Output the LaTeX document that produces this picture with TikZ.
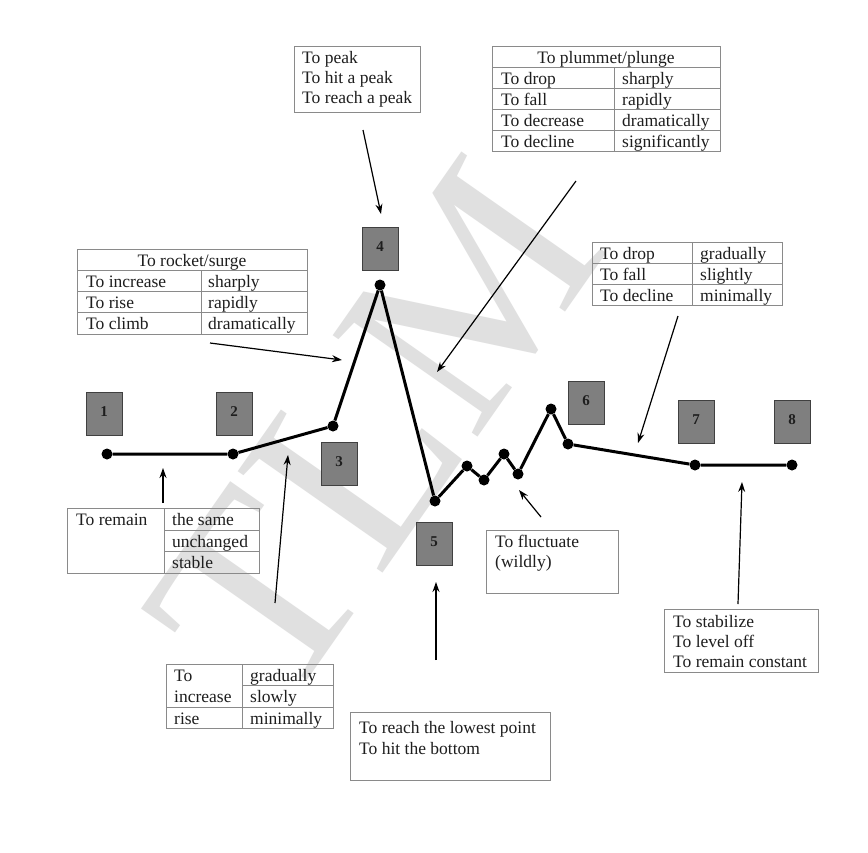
\documentclass[tikz,border=0pt]{standalone}
\usepackage{fontspec}
\setmainfont{Liberation Serif}
\setsansfont{Liberation Sans}
\usetikzlibrary{arrows.meta}
\definecolor{tline}{HTML}{8A8A8A}
\definecolor{boxfill}{HTML}{7F7F7F}
\definecolor{boxedge}{HTML}{404040}
\definecolor{wm}{HTML}{E0E0E0}
\definecolor{ink}{HTML}{1E1E1E}
\tikzset{
  txt/.style={anchor=base west, inner sep=0pt, font=\fontsize{17.5}{20.5}\selectfont, text=ink},
  ctxt/.style={anchor=base, inner sep=0pt, font=\fontsize{17.5}{20.5}\selectfont, text=ink},
  grid/.style={draw=tline, line width=1pt},
  numbox/.style={draw=boxedge, fill=boxfill, line width=1pt, minimum width=36pt, minimum height=43pt, inner sep=0pt, font=\bfseries\fontsize{15}{15}\selectfont, text=ink},
  dot/.style={circle, fill=black, inner sep=0pt, minimum size=11pt},
  curve/.style={line width=3pt, black, line join=round},
  pointer/.style={line width=1.2pt, black, -{Stealth[length=10pt,width=7pt]}},
}
\begin{document}
\begin{tikzpicture}[x=1pt,y=-1pt]
\useasboundingbox[fill=white] (0,0) rectangle (868,852);

% watermark
\node[rotate=55, text=wm, inner sep=0pt, font=\fontsize{270}{270}\selectfont] (wmark) at (375,430) {TLM};

% ---------- number boxes ----------
\node[numbox] (b1) at (104,414) {\raisebox{5pt}{1}};
\node[numbox] (b2) at (234,414) {\raisebox{5pt}{2}};
\node[numbox] (b3) at (339,464) {\raisebox{5pt}{3}};
\node[numbox] (b4) at (380,249) {\raisebox{5pt}{4}};
\node[numbox] (b5) at (434,544) {\raisebox{5pt}{5}};
\node[numbox] (b6) at (586,403) {\raisebox{5pt}{6}};
\node[numbox] (b7) at (696,422) {\raisebox{5pt}{7}};
\node[numbox] (b8) at (792,422) {\raisebox{5pt}{8}};

% ---------- the line ----------
\node[dot] (p1) at (107,454) {};
\node[dot] (p2) at (233,454) {};
\node[dot] (p3) at (333,426) {};
\node[dot] (p4) at (380,285) {};
\node[dot] (p5) at (435,501) {};
\node[dot] (p6) at (467,466) {};
\node[dot] (p7) at (484,480) {};
\node[dot] (p8) at (504,454) {};
\node[dot] (p9) at (518,474) {};
\node[dot] (p10) at (551,409) {};
\node[dot] (p11) at (568,444) {};
\node[dot] (p12) at (695,465) {};
\node[dot] (p13) at (792,465) {};
\draw[curve] (p1) -- (p2) -- (p3) -- (p4) -- (p5) -- (p6) -- (p7) -- (p8) -- (p9) -- (p10) -- (p11) -- (p12) -- (p13);

% ---------- peak box ----------
\draw[grid] (294,46) rectangle (420,112);
\node[txt] (pk1) at (302,63) {To peak};
\node[txt] (pk2) at (302,83) {To hit a peak};
\node[txt] (pk3) at (302,103) {To reach a peak};

% ---------- plummet table ----------
\draw[grid] (492,46) rectangle (720,151);
\draw[grid] (492,67) -- (720,67) (492,88) -- (720,88) (492,109) -- (720,109) (492,130) -- (720,130) (614,67) -- (614,151);
\node[ctxt] (plh) at (606,63) {To plummet/plunge};
\node[txt] (pl1) at (501,84) {To drop};
\node[txt] (pl2) at (501,105) {To fall};
\node[txt] (pl3) at (501,126) {To decrease};
\node[txt] (pl4) at (501,147) {To decline};
\node[txt] (pr1) at (622,84) {sharply};
\node[txt] (pr2) at (622,105) {rapidly};
\node[txt] (pr3) at (622,126) {dramatically};
\node[txt] (pr4) at (622,147) {significantly};

% ---------- rocket table ----------
\draw[grid] (77,249) rectangle (307,334);
\draw[grid] (77,270) -- (307,270) (77,291) -- (307,291) (77,312) -- (307,312) (201,270) -- (201,334);
\node[ctxt] (rkh) at (192,266) {To rocket/surge};
\node[txt] (rk1) at (86,287) {To increase};
\node[txt] (rk2) at (86,308) {To rise};
\node[txt] (rk3) at (86,329) {To climb};
\node[txt] (rr1) at (208,287) {sharply};
\node[txt] (rr2) at (208,308) {rapidly};
\node[txt] (rr3) at (208,329) {dramatically};

% ---------- drop gradually table ----------
\draw[grid] (592,242) rectangle (782,305);
\draw[grid] (592,263) -- (782,263) (592,284) -- (782,284) (692,242) -- (692,305);
\node[txt] (dg1) at (600,259) {To drop};
\node[txt] (dg2) at (600,280) {To fall};
\node[txt] (dg3) at (600,301) {To decline};
\node[txt] (dr1) at (700,259) {gradually};
\node[txt] (dr2) at (700,280) {slightly};
\node[txt] (dr3) at (700,301) {minimally};

% ---------- remain table ----------
\draw[grid] (67,508) rectangle (259,573);
\draw[grid] (164,508) -- (164,573) (164,530) -- (259,530) (164,551) -- (259,551);
\node[txt] (rm0) at (76,525) {To remain};
\node[txt] (rm1) at (172,525) {the same};
\node[txt] (rm2) at (172,547) {unchanged};
\node[txt] (rm3) at (172,568) {stable};

% ---------- increase gradually table ----------
\draw[grid] (166,664) rectangle (333,728);
\draw[grid] (242,664) -- (242,728) (242,685) -- (333,685) (166,707) -- (333,707);
\node[txt] (ig1) at (174,681) {To};
\node[txt] (ig2) at (174,702) {increase};
\node[txt] (ig3) at (174,724) {rise};
\node[txt] (ir1) at (250,681) {gradually};
\node[txt] (ir2) at (250,702) {slowly};
\node[txt] (ir3) at (250,724) {minimally};

% ---------- fluctuate box ----------
\draw[grid] (486,530) rectangle (618,593);
\node[txt] (fl1) at (495,547) {To fluctuate};
\node[txt] (fl2) at (495,567) {(wildly)};

% ---------- lowest point box ----------
\draw[grid] (350,712) rectangle (550,780);
\node[txt] (lw1) at (359,733) {To reach the lowest point};
\node[txt] (lw2) at (359,754) {To hit the bottom};

% ---------- stabilize box ----------
\draw[grid] (664,609) rectangle (818,672);
\node[txt] (st1) at (673,627) {To stabilize};
\node[txt] (st2) at (673,647) {To level off};
\node[txt] (st3) at (673,667) {To remain constant};

% ---------- pointers ----------
\coordinate (aPkS) at (363,130); \coordinate (aPkE) at (381,214);
\coordinate (aPlS) at (576,181); \coordinate (aPlE) at (437,372);
\coordinate (aRkS) at (210,343); \coordinate (aRkE) at (342,360);
\coordinate (aDgS) at (678,316); \coordinate (aDgE) at (638,443);
\coordinate (aRmS) at (163,503); \coordinate (aRmE) at (163,468);
\coordinate (aIgS) at (275,603); \coordinate (aIgE) at (288,455);
\coordinate (aFlS) at (541,517); \coordinate (aFlE) at (519,490);
\coordinate (aLwS) at (436,660); \coordinate (aLwE) at (436,582);
\coordinate (aStS) at (738,604); \coordinate (aStE) at (742,482);
\draw[pointer] (aPkS) -- (aPkE);
\draw[pointer] (aPlS) -- (aPlE);
\draw[pointer] (aRkS) -- (aRkE);
\draw[pointer] (aDgS) -- (aDgE);
\draw[pointer] (aRmS) -- (aRmE);
\draw[pointer] (aIgS) -- (aIgE);
\draw[pointer] (aFlS) -- (aFlE);
\draw[pointer] (aLwS) -- (aLwE);
\draw[pointer] (aStS) -- (aStE);
\end{tikzpicture}
\end{document}
